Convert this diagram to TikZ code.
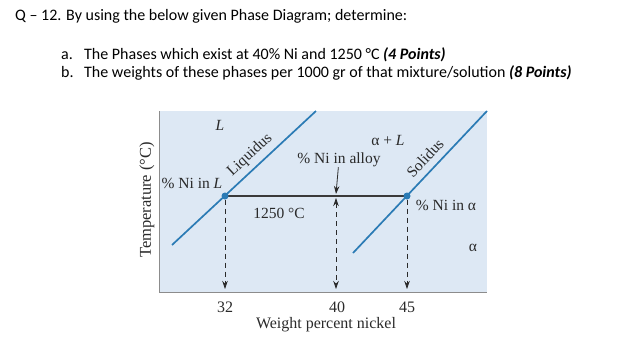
\documentclass[tikz,border=0pt]{standalone}
\usepackage{fontspec}
\setmainfont{Liberation Serif}
\newfontfamily\calibri{Carlito}
\usetikzlibrary{arrows.meta}

\definecolor{plotbg}{HTML}{DDE8F4}
\definecolor{phaseline}{HTML}{2B7BB5}
\definecolor{axisgray}{HTML}{8C8C8C}
\definecolor{tiegray}{HTML}{3A3A3A}
\definecolor{inkgray}{HTML}{2A2A2A}

\tikzset{
	question/.style={inner sep=0pt, anchor=base west, font=\calibri\fontsize{16}{19}\selectfont},
	lbl/.style={inner sep=0pt, text=inkgray, font=\fontsize{15.5}{18}\selectfont},
	axislbl/.style={lbl, font=\fontsize{16}{18}\selectfont},
	boundary/.style={draw=phaseline, line width=1.7pt},
	tieline/.style={draw=tiegray, line width=1.8pt},
	phasedot/.style={circle, fill=phaseline, inner sep=0pt, minimum size=7pt},
	dropline/.style={draw=inkgray, line width=0.8pt, dash pattern=on 5pt off 4pt, -{Stealth[length=8pt,width=5.5pt]}},
	pointer/.style={draw=inkgray, line width=0.8pt, -{Stealth[length=8pt,width=5.5pt]}}
}

\begin{document}
\begin{tikzpicture}[x=1pt,y=-1pt]
	\useasboundingbox (0,0) rectangle (622,362);

	% Question
	\node[question] (title) at (15,20) {Q – 12. By using the below given Phase Diagram; determine:};
	\node[question] (itema) at (61,59) {a.};
	\node[question] (texta) at (84,59) {The Phases which exist at 40\% Ni and 1250 °C \textbf{\textit{(4 Points)}}};
	\node[question] (itemb) at (61,77) {b.};
	\node[question] (textb) at (84,77) {The weights of these phases per 1000 gr of that mixture/solution \textbf{\textit{(8 Points)}}};

	% Plot area
	\fill[plotbg] (159,111) rectangle (487,292);
	\draw[axisgray, line width=1pt] (159,111) -- (159,292) -- (487,292);

	% Liquidus and solidus
	\coordinate (liqlow) at (172,245);
	\coordinate (liqtop) at (316,111);
	\coordinate (sollow) at (353,253);
	\coordinate (soltop) at (487,111);
	\draw[boundary] (liqlow) -- (liqtop);
	\draw[boundary] (sollow) -- (soltop);

	% Tie line at 1250 C
	\coordinate (ptL) at (225,196);
	\coordinate (ptA) at (407,196);
	\draw[tieline] (ptL) -- (ptA);
	\node[phasedot] (dotL) at (ptL) {};
	\node[phasedot] (dotA) at (ptA) {};

	% Compositions
	\coordinate (x32) at (225,289);
	\coordinate (x40) at (336,289);
	\coordinate (x45) at (407,289);
	\coordinate (tieabove) at (336,194);
	\coordinate (tiebelow) at (336,198);
	\draw[dropline] (dotL) -- (x32);
	\draw[dropline] (dotA) -- (x45);
	\draw[dropline, {Stealth[length=8pt,width=5.5pt]}-{Stealth[length=8pt,width=5.5pt]}] (tiebelow) -- (x40);

	% Labels
	\node[lbl] (liqregion) at (220,125) {\textit{L}};
	\node[lbl, rotate=43] (liqname) at (250,155) {Liquidus};
	\node[lbl] (niinL) at (192,183) {\% Ni in \textit{L}};
	\node[lbl] (temp) at (279,213) {1250 °C};
	\node[lbl] (tworegion) at (388,140) {α + \textit{L}};
	\node[lbl] (alloy) at (339,160) {\% Ni in alloy};
	\node[lbl, rotate=47] (solname) at (425,158) {Solidus};
	\node[lbl] (niinA) at (446,205) {\% Ni in α};
	\node[lbl] (solregion) at (473,248) {α};
	\draw[pointer] (alloy) -- (tieabove);

	% Axes
	\node[axislbl, anchor=base] (t32) at (225,312) {32};
	\node[axislbl, anchor=base] (t40) at (337,312) {40};
	\node[axislbl, anchor=base] (t45) at (407,312) {45};
	\node[axislbl, anchor=base] (xlabel) at (326,328) {Weight percent nickel};
	\node[axislbl, rotate=90, font=\fontsize{16.5}{18}\selectfont] (ylabel) at (147,200) {Temperature (°C)};
\end{tikzpicture}
\end{document}
